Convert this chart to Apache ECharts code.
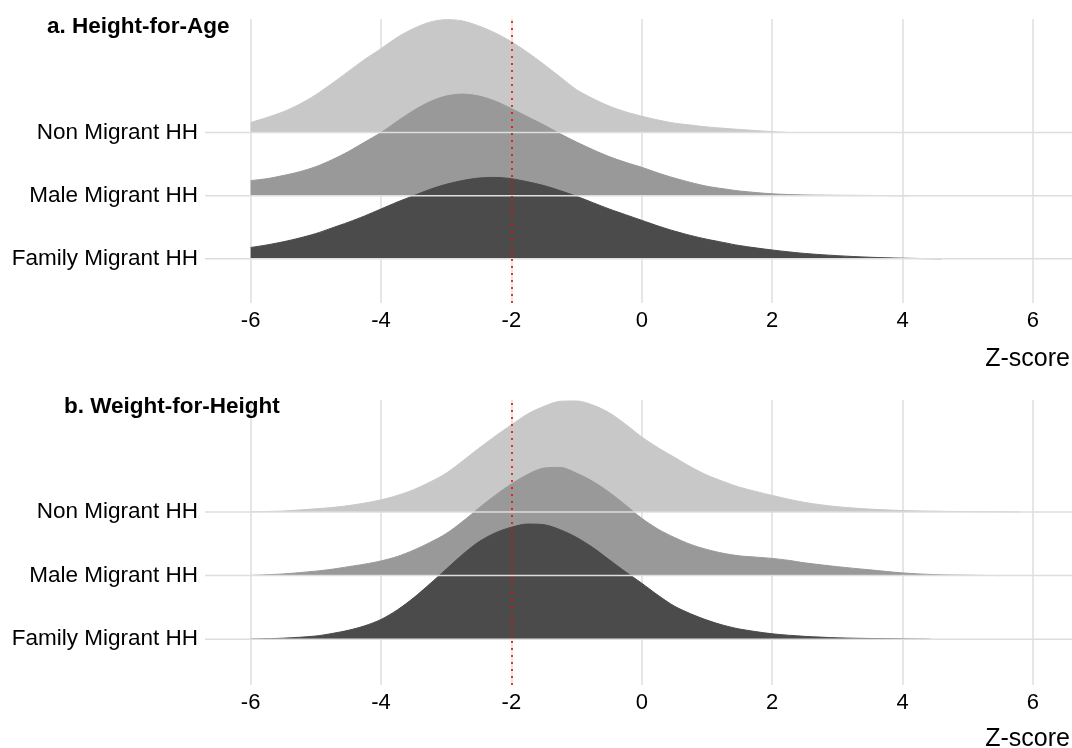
<!DOCTYPE html>
<html><head><meta charset="utf-8">
<script src="https://cdn.jsdelivr.net/npm/echarts@6/dist/echarts.min.js"></script>
<style>html,body{margin:0;padding:0;background:#fff}#c{width:1072px;height:748px}</style>
</head><body><div id="c"></div>
<script>
// ---- data ----
const groups = ['Family Migrant HH', 'Male Migrant HH', 'Non Migrant HH']; // bottom -> top
const panelTitles = ['a. Height-for-Age', 'b. Weight-for-Height'];
const axisTitle = 'Z-score';
const cutoff = -2;
const zTicks = [-6, -4, -2, 0, 2, 4, 6];
const zRange = [-6.7, 6.6]; // panel extent (grid lines reach the panel edges)

// ridge heights (density, in units of ridge spacing) at Z-score values
const hfaNon = [[-6,0.16],[-5.75,0.24],[-5.5,0.33],[-5.25,0.45],[-5,0.60],[-4.75,0.78],[-4.5,0.97],[-4.25,1.16],[-4,1.33],[-3.75,1.51],[-3.5,1.65],[-3.25,1.75],[-3,1.79],[-2.75,1.77],[-2.5,1.69],[-2.25,1.58],[-2,1.44],[-1.75,1.27],[-1.5,1.08],[-1.25,0.88],[-1,0.68],[-0.75,0.54],[-0.5,0.42],[-0.25,0.33],[0,0.26],[0.25,0.20],[0.5,0.15],[0.75,0.12],[1,0.09],[1.5,0.05],[2,0.015],[2.3,0]];
const hfaMale = [[-6,0.24],[-5.75,0.27],[-5.5,0.32],[-5.25,0.38],[-5,0.46],[-4.75,0.57],[-4.5,0.70],[-4.25,0.85],[-4,1.00],[-3.75,1.18],[-3.5,1.35],[-3.25,1.49],[-3,1.58],[-2.75,1.61],[-2.5,1.58],[-2.25,1.50],[-2,1.38],[-1.75,1.25],[-1.5,1.12],[-1.25,0.98],[-1,0.85],[-0.75,0.73],[-0.5,0.62],[-0.25,0.53],[0,0.45],[0.25,0.36],[0.5,0.28],[0.75,0.21],[1,0.15],[1.25,0.11],[1.5,0.075],[2,0.03],[2.5,0.012],[3,0.006],[3.5,0.004],[4.07,0]];
const hfaFamily = [[-6,0.18],[-5.75,0.22],[-5.5,0.27],[-5.25,0.33],[-5,0.40],[-4.75,0.49],[-4.5,0.58],[-4.25,0.68],[-4,0.79],[-3.75,0.90],[-3.5,1.00],[-3.25,1.10],[-3,1.18],[-2.75,1.24],[-2.5,1.28],[-2.25,1.29],[-2,1.27],[-1.75,1.22],[-1.5,1.16],[-1.25,1.08],[-1,0.99],[-0.75,0.89],[-0.5,0.79],[-0.25,0.70],[0,0.61],[0.25,0.52],[0.5,0.44],[0.75,0.37],[1,0.31],[1.25,0.26],[1.5,0.21],[2,0.14],[2.5,0.085],[3,0.05],[3.5,0.025],[4,0.01],[4.6,0]];
const whzNon = [[-6,0.003],[-5.5,0.015],[-5,0.05],[-4.75,0.07],[-4.5,0.10],[-4.25,0.14],[-4,0.19],[-3.75,0.26],[-3.5,0.35],[-3.25,0.47],[-3,0.61],[-2.75,0.80],[-2.5,1.00],[-2.25,1.19],[-2,1.37],[-1.75,1.54],[-1.5,1.66],[-1.25,1.74],[-1,1.745],[-0.75,1.68],[-0.5,1.56],[-0.25,1.38],[0,1.18],[0.25,1.01],[0.5,0.86],[0.75,0.71],[1,0.58],[1.25,0.48],[1.5,0.39],[2,0.26],[2.5,0.15],[3,0.083],[3.5,0.045],[4,0.022],[4.5,0.012],[5,0.006],[5.5,0.003],[5.8,0]];
const whzMale = [[-6,0.003],[-5.5,0.026],[-5,0.07],[-4.75,0.10],[-4.5,0.14],[-4.25,0.18],[-4,0.23],[-3.75,0.30],[-3.5,0.40],[-3.25,0.52],[-3,0.66],[-2.75,0.85],[-2.5,1.06],[-2.25,1.26],[-2,1.44],[-1.75,1.59],[-1.5,1.69],[-1.25,1.70],[-1,1.61],[-0.75,1.48],[-0.5,1.31],[-0.25,1.11],[0,0.90],[0.25,0.73],[0.5,0.60],[0.75,0.49],[1,0.41],[1.25,0.35],[1.5,0.31],[1.75,0.29],[2,0.27],[2.25,0.24],[2.5,0.20],[3,0.14],[3.5,0.09],[4,0.042],[4.5,0.015],[5,0.006],[5.5,0]];
const whzFamily = [[-6,0.002],[-5.5,0.016],[-5,0.05],[-4.75,0.09],[-4.5,0.14],[-4.25,0.21],[-4,0.31],[-3.75,0.46],[-3.5,0.65],[-3.25,0.87],[-3,1.10],[-2.75,1.33],[-2.5,1.53],[-2.25,1.67],[-2,1.76],[-1.75,1.81],[-1.5,1.80],[-1.25,1.72],[-1,1.60],[-0.75,1.44],[-0.5,1.25],[-0.25,1.06],[0,0.88],[0.25,0.69],[0.5,0.52],[0.75,0.40],[1,0.30],[1.25,0.22],[1.5,0.16],[2,0.085],[2.5,0.045],[3,0.022],[3.5,0.011],[4,0.005],[4.43,0]];

const panels = [[hfaFamily, hfaMale, hfaNon], [whzFamily, whzMale, whzNon]];
const ridgeColors = ['#4b4b4b', '#999999', '#c8c8c8'];

// ---- styling ----
const FONT = 'Liberation Sans, Arial, Helvetica, sans-serif';
const gridColor = '#dedede';
const grids = [
  { left: 205, right: 0, top: 19, height: 284 },
  { left: 205, right: 0, top: 400, height: 285 }
];
const yRanges = [[-0.70, 3.80], [-0.72, 3.76]];

const xAxes = grids.map((g, i) => ({
  type: 'value', gridIndex: i, min: zRange[0], max: zRange[1],
  axisLine: { show: false },
  axisTick: { show: false, customValues: zTicks },
  splitLine: { show: true, lineStyle: { color: gridColor, width: 1.5 } },
  axisLabel: { customValues: zTicks, fontSize: 22, color: '#000', fontFamily: FONT, margin: 7 }
}));
const yAxes = grids.map((g, i) => ({
  type: 'value', gridIndex: i, min: yRanges[i][0], max: yRanges[i][1],
  axisLine: { show: false }, axisTick: { show: false }, splitLine: { show: false },
  axisLabel: {
    customValues: [0, 1, 2],
    formatter: v => (Number.isInteger(v) && groups[v]) ? groups[v] : '',
    fontSize: 22.5, color: '#000', fontFamily: FONT, margin: 7,
    padding: [0, 0, 14, 0]
  }
}));

const series = [];
panels.forEach((ridges, p) => {
  // draw from top ridge (back) to bottom ridge (front)
  for (let k = ridges.length - 1; k >= 0; k--) {
    series.push({
      type: 'line', xAxisIndex: p, yAxisIndex: p, silent: true,
      data: ridges[k].map(([z, h]) => [z, k + h]),
      smooth: 0.3, symbol: 'none', showSymbol: false,
      lineStyle: { color: ridgeColors[k], width: 1 },
      areaStyle: { color: ridgeColors[k], opacity: 1, origin: k },
      z: 2
    });
  }
  groups.forEach((g, k) => {
    const s = {
      type: 'line', xAxisIndex: p, yAxisIndex: p, silent: true,
      data: [[zRange[0], k], [zRange[1], k]],
      symbol: 'none', showSymbol: false,
      lineStyle: { color: gridColor, width: 1.5 }, z: 3
    };
    if (k === 0) {
      s.markLine = {
        silent: true, symbol: ['none', 'none'], label: { show: false },
        lineStyle: { color: '#ff0000', width: 1.6, type: [2, 5] },
        data: [{ xAxis: cutoff }], z: 5
      };
    }
    series.push(s);
  });
});

const titleStyle = { fontSize: 22.5, fontWeight: 'bold', color: '#000', fontFamily: FONT };
const axisTitleStyle = { fontSize: 25, fontWeight: 'normal', color: '#000', fontFamily: FONT };
const option = {
  animation: false,
  backgroundColor: '#ffffff',
  title: [
    { text: panelTitles[0], left: 47, top: 15, padding: 0, textStyle: titleStyle },
    { text: panelTitles[1], left: 64, top: 395, padding: 0, textStyle: titleStyle },
    { text: axisTitle, right: 2, top: 347, padding: 0, textStyle: axisTitleStyle },
    { text: axisTitle, right: 2, top: 727, padding: 0, textStyle: axisTitleStyle }
  ],
  grid: grids,
  xAxis: xAxes,
  yAxis: yAxes,
  series: series
};
const chart = echarts.init(document.getElementById('c'), null, { renderer: 'canvas' });
chart.setOption(option);
</script></body></html>
